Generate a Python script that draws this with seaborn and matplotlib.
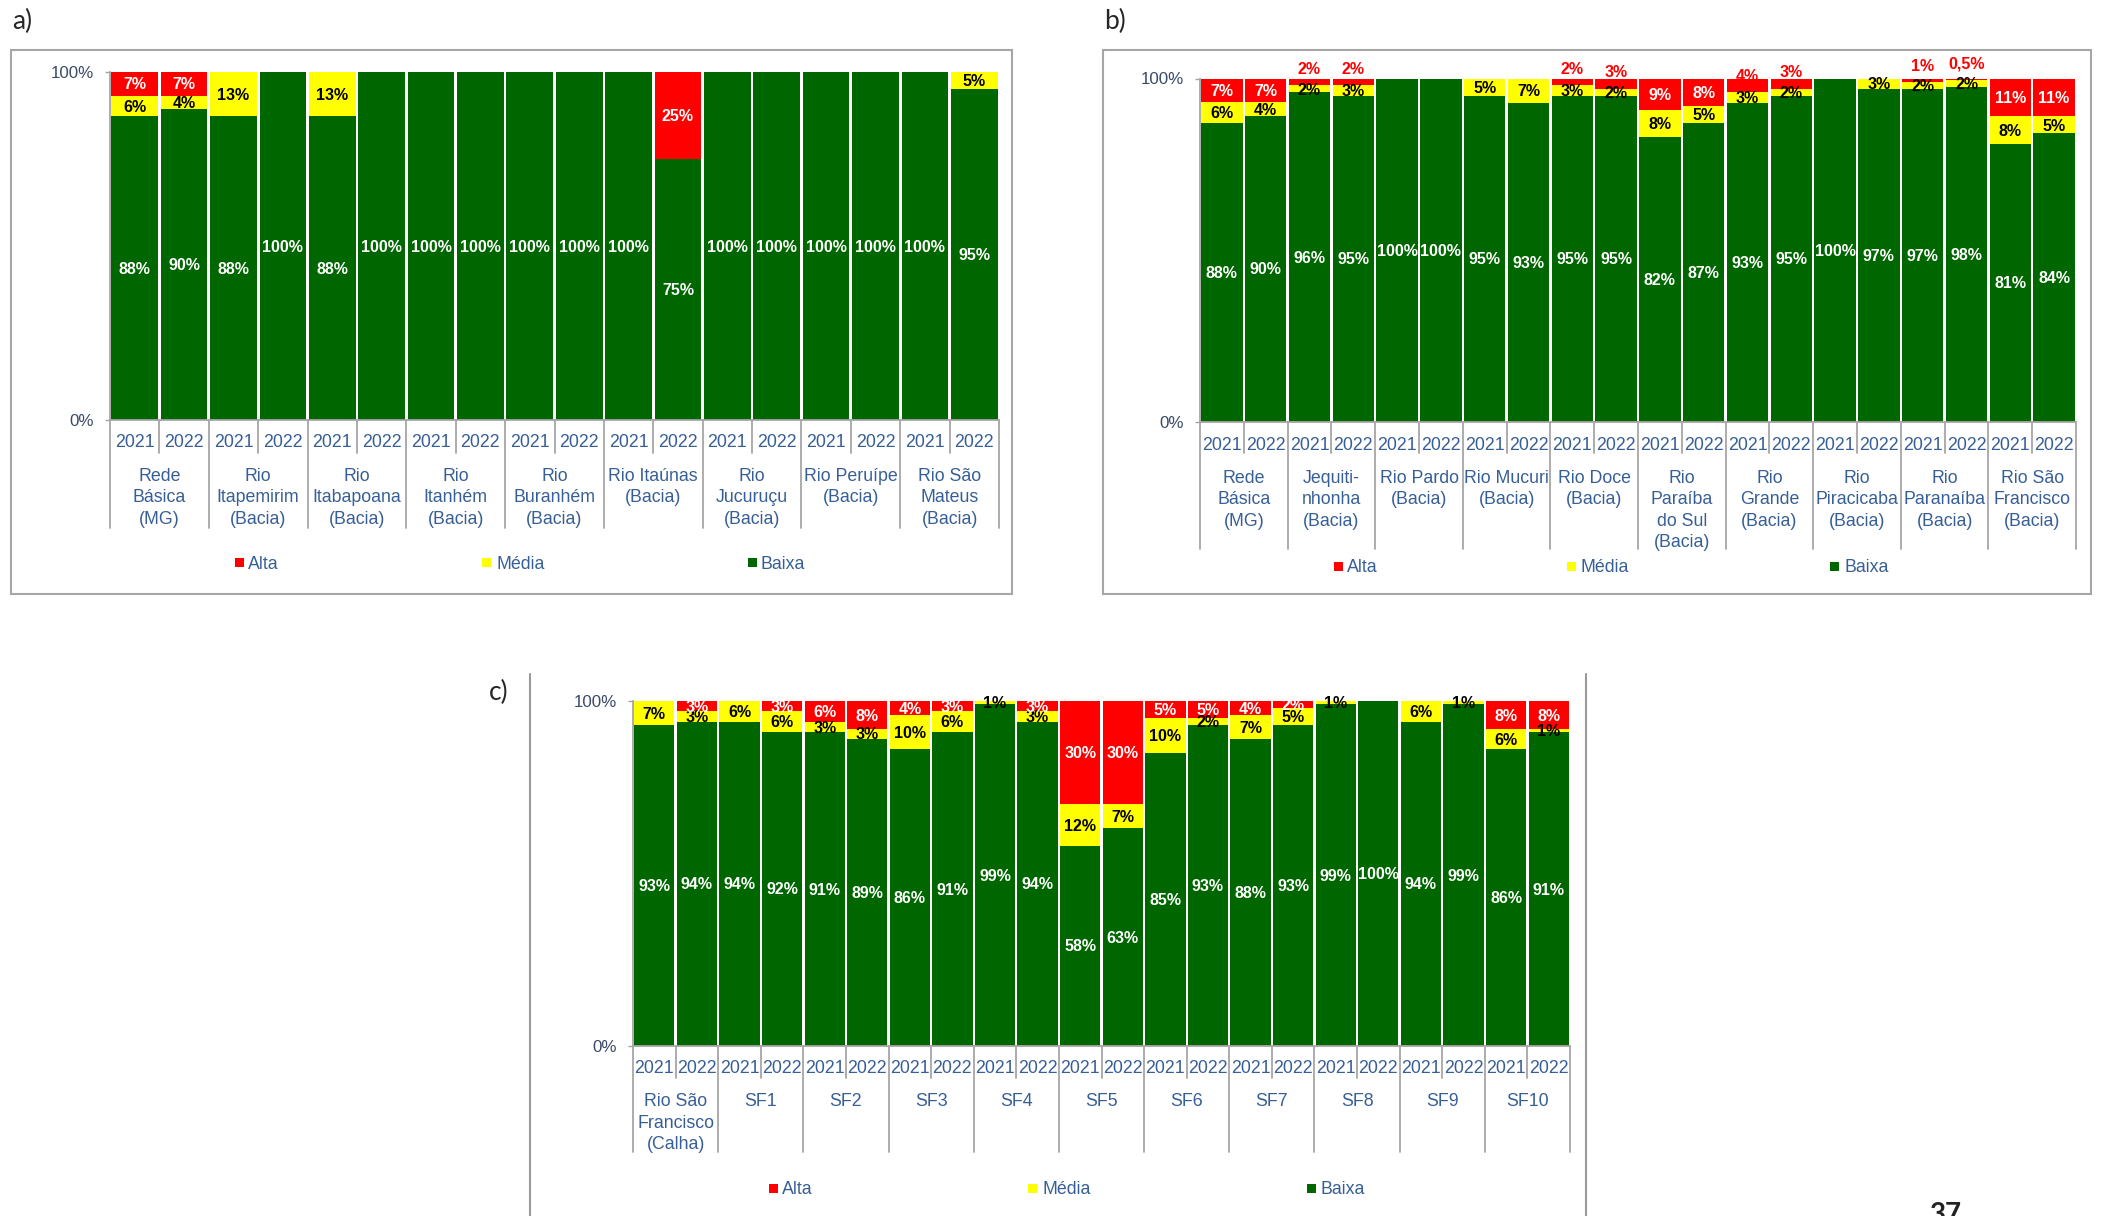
import numpy as np
import pandas as pd
import matplotlib
matplotlib.use("Agg")
import matplotlib.pyplot as plt
import matplotlib.transforms as mtrans
from matplotlib.patches import Rectangle
from matplotlib.lines import Line2D
import seaborn as sns

# ---------------- data ----------------
years = ["2021", "2022"]
series_names = ["Alta", "Média", "Baixa"]

groups_a = ["Rede\nBásica\n(MG)", "Rio\nItapemirim\n(Bacia)", "Rio\nItabapoana\n(Bacia)",
            "Rio\nItanhém\n(Bacia)", "Rio\nBuranhém\n(Bacia)", "Rio Itaúnas\n(Bacia)",
            "Rio\nJucuruçu\n(Bacia)", "Rio Peruípe\n(Bacia)", "Rio São\nMateus\n(Bacia)"]
baixa_a = [88, 90, 88, 100, 88, 100, 100, 100, 100, 100, 100, 75, 100, 100, 100, 100, 100, 95]
media_a = [6, 4, 13, 0, 13, 0, 0, 0, 0, 0, 0, 0, 0, 0, 0, 0, 0, 5]
alta_a = [7, 7, 0, 0, 0, 0, 0, 0, 0, 0, 0, 25, 0, 0, 0, 0, 0, 0]

groups_b = ["Rede\nBásica\n(MG)", "Jequiti-\nnhonha\n(Bacia)", "Rio Pardo\n(Bacia)",
            "Rio Mucuri\n(Bacia)", "Rio Doce\n(Bacia)", "Rio\nParaíba\ndo Sul\n(Bacia)",
            "Rio\nGrande\n(Bacia)", "Rio\nPiracicaba\n(Bacia)", "Rio\nParanaíba\n(Bacia)",
            "Rio São\nFrancisco\n(Bacia)"]
baixa_b = [88, 90, 96, 95, 100, 100, 95, 93, 95, 95, 82, 87, 93, 95, 100, 97, 97, 98, 81, 84]
media_b = [6, 4, 2, 3, 0, 0, 5, 7, 3, 2, 8, 5, 3, 2, 0, 3, 2, 2, 8, 5]
alta_b = [7, 7, 2, 2, 0, 0, 0, 0, 2, 3, 9, 8, 4, 3, 0, 0, 1, 0.5, 11, 11]

groups_c = ["Rio São\nFrancisco\n(Calha)", "SF1", "SF2", "SF3", "SF4", "SF5",
            "SF6", "SF7", "SF8", "SF9", "SF10"]
baixa_c = [93, 94, 94, 92, 91, 89, 86, 91, 99, 94, 58, 63, 85, 93, 88, 93, 99, 100, 94, 99, 86, 91]
media_c = [7, 3, 6, 6, 3, 3, 10, 6, 1, 3, 12, 7, 10, 2, 7, 5, 1, 0, 6, 1, 6, 1]
alta_c = [0, 3, 0, 3, 6, 8, 4, 3, 0, 3, 30, 30, 5, 5, 4, 2, 0, 0, 0, 0, 8, 8]

# ---------------- style ----------------
colors = {"Alta": "#FF0000", "Média": "#FFFF00", "Baixa": "#006600"}
W, H, DPI = 2102, 1216, 100
sns.set_style("white")
plt.rcParams["font.family"] = ["Liberation Sans", "DejaVu Sans"]

TXT_BLUE = "#375F97"
TICK_C = "#3B4A68"
LINE_GRAY = "#A6A6A6"
FS_LBL = 11.5
FS_AX = 12.8
FS_TICK = 12.2

fig = plt.figure(figsize=(W / DPI, H / DPI), dpi=DPI)
fig.patch.set_facecolor("white")


def fx(x):
    return x / W


def fy(y):
    return 1 - y / H


def pt2px(p):
    return p * DPI / 72.0


def fmt(v):
    return f"{v:g}".replace(".", ",") + "%"


def draw_panel(box, groups, baixa, media, alta, year_y, cat_y, short_end, long_end,
               legend_y, legend_x, small_alta_above):
    x0, x1, yt, yb = box
    ax = fig.add_axes([fx(x0), fy(yb), fx(x1) - fx(x0), fy(yt) - fy(yb)])
    labels = [f"{g}|{y}" for g in groups for y in years]
    n = len(labels)
    b = np.array(baixa, float)
    m = np.array(media, float)
    a = np.array(alta, float)
    tot = b + m + a
    sb, sm, sa = b / tot * 100, m / tot * 100, a / tot * 100
    df = pd.DataFrame({"pos": labels, "Baixa": sb, "Média": sb + sm, "Alta": sb + sm + sa})
    for s in ["Alta", "Média", "Baixa"]:
        sns.barplot(data=df, x="pos", y=s, order=labels, color=colors[s], saturation=1,
                    width=0.945, errorbar=None, linewidth=0, ax=ax)
    ax.set_xlim(-0.5, n - 0.5)
    ax.set_ylim(0, 100)
    ax.set_yticks([0, 100])
    ax.set_yticklabels(["0%", "100%"])
    ax.tick_params(axis="y", length=3.6, width=1, color=LINE_GRAY, pad=8,
                   labelsize=FS_TICK, labelcolor=TICK_C, direction="out", left=True)
    ax.tick_params(axis="x", length=0, labelbottom=False)
    ax.set_xlabel("")
    ax.set_ylabel("")
    for sp in ["top", "right"]:
        ax.spines[sp].set_visible(False)
    for sp in ["left", "bottom"]:
        ax.spines[sp].set_color(LINE_GRAY)
        ax.spines[sp].set_linewidth(1.3)
    ax.patch.set_alpha(0)

    # bar labels
    base_off = mtrans.offset_copy(ax.transData, fig=fig, y=-0.36 * FS_LBL, units="points")
    kw = dict(ha="center", va="baseline", fontsize=FS_LBL, fontweight="bold",
              transform=base_off, clip_on=False)
    for i in range(n):
        if b[i] > 0:
            ax.text(i, sb[i] / 2, fmt(baixa[i]), color="white", **kw)
        if m[i] > 0:
            ax.text(i, sb[i] + sm[i] / 2, fmt(media[i]), color="black", **kw)
        if a[i] > 0:
            if small_alta_above and a[i] < 5:
                ax.text(i, 105 - a[i], fmt(alta[i]), color="#FF0000", **kw)
            else:
                ax.text(i, sb[i] + sm[i] + sa[i] / 2, fmt(alta[i]), color="white", **kw)

    # category axis: separators, years, group names
    bt = mtrans.blended_transform_factory(ax.transData, fig.transFigure)
    for i in range(n + 1):
        xs = i - 0.5
        end = long_end if i % 2 == 0 else short_end
        fig.add_artist(Line2D([xs, xs], [fy(yb), fy(end)], transform=bt,
                              color=LINE_GRAY, lw=1.3))
    for i in range(n):
        ax.text(i, fy(year_y + 0.36 * pt2px(FS_AX)), years[i % 2], transform=bt,
                ha="center", va="baseline", fontsize=FS_AX, color=TXT_BLUE, clip_on=False)
    for g, name in enumerate(groups):
        ax.text(2 * g + 0.5, fy(cat_y - 0.37 * pt2px(FS_AX)), name, transform=bt,
                ha="center", va="top", fontsize=FS_AX, color=TXT_BLUE,
                linespacing=1.33, clip_on=False, multialignment="center")

    # legend
    for s, (mx, tx) in zip(series_names, legend_x):
        fig.add_artist(Rectangle((fx(mx - 4.5), fy(legend_y + 4.5)), 9 / W, 9 / H,
                                 transform=fig.transFigure, facecolor=colors[s],
                                 edgecolor="none"))
        fig.text(fx(tx), fy(legend_y + 0.36 * pt2px(FS_AX)), s, ha="left", va="baseline",
                 fontsize=FS_AX, color=TXT_BLUE)
    return ax


# panel a
fig.add_artist(Rectangle((fx(11), fy(594)), (1012 - 11) / W, (594 - 50) / H,
                         transform=fig.transFigure, fill=False, edgecolor=LINE_GRAY, lw=1.5))
draw_panel((110, 999, 71.5, 420), groups_a, baixa_a, media_a, alta_a,
           year_y=441, cat_y=474.5, short_end=453, long_end=528,
           legend_y=562.5, legend_x=[(239, 248), (486, 496), (752, 761)],
           small_alta_above=False)

# panel b
fig.add_artist(Rectangle((fx(1103), fy(594)), (2091 - 1103) / W, (594 - 50) / H,
                         transform=fig.transFigure, fill=False, edgecolor=LINE_GRAY, lw=1.5))
draw_panel((1200, 2076, 78.5, 421.5), groups_b, baixa_b, media_b, alta_b,
           year_y=444, cat_y=476.5, short_end=453.5, long_end=549,
           legend_y=566, legend_x=[(1338, 1347), (1571, 1581), (1834, 1844)],
           small_alta_above=True)

# panel c
for xl in (530, 1586):
    fig.add_artist(Line2D([fx(xl), fx(xl)], [fy(674), fy(1216)], transform=fig.transFigure,
                          color="#9A9A9A", lw=1.5))
draw_panel((633, 1570, 701, 1045.5), groups_c, baixa_c, media_c, alta_c,
           year_y=1067, cat_y=1100, short_end=1078, long_end=1152,
           legend_y=1188, legend_x=[(773, 782), (1032, 1042), (1311, 1320)],
           small_alta_above=False)

# panel letters and page number
for txt, (px, py) in zip(["a)", "b)", "c)"], [(12, 21), (1104, 21), (489, 692)]):
    fig.text(fx(px), fy(py), txt, ha="left", va="center", fontsize=19, color="#262626",
             family=["Lato", "DejaVu Sans"])
fig.text(fx(1945), fy(1202), "37", ha="center", va="top", fontsize=20, fontweight="bold",
         color="#222222", family=["Lato", "DejaVu Sans"])

fig.savefig("out.png", dpi=DPI, facecolor="white")
